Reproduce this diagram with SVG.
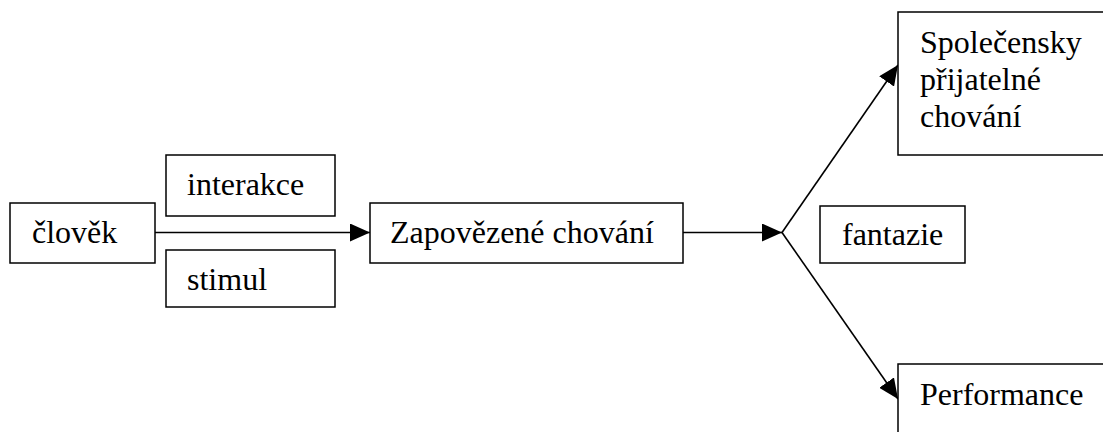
<svg xmlns="http://www.w3.org/2000/svg" width="1103" height="432" viewBox="0 0 1103 432">
<style>
.box{fill:#fff;stroke:#000;stroke-width:1.5}
.t{font-family:"Liberation Serif","Times New Roman",serif;font-size:32px;fill:#000}
.c{stroke:#000;stroke-width:1.6;fill:none}
</style>
<defs>
<marker id="ah" markerUnits="userSpaceOnUse" markerWidth="20" markerHeight="18" refX="20" refY="9" orient="auto">
<path d="M0,0 L20,9 L0,18 Z" fill="#000"/>
</marker>
</defs>
<rect width="1103" height="432" fill="#fff"/>
<g id="connectors">
<line class="c" x1="155" y1="232.5" x2="370" y2="232.5" marker-end="url(#ah)"/>
<line class="c" x1="683" y1="232.5" x2="782" y2="232.5" marker-end="url(#ah)"/>
<line class="c" x1="782" y1="232.5" x2="898" y2="65" marker-end="url(#ah)"/>
<line class="c" x1="782" y1="232.5" x2="898" y2="399" marker-end="url(#ah)"/>
</g>
<g id="clovek">
<rect class="box" x="10" y="203" width="145" height="60"/>
<text class="t" x="32" y="243">člověk</text>
</g>
<g id="interakce">
<rect class="box" x="166" y="155" width="169" height="61"/>
<text class="t" x="187" y="195">interakce</text>
</g>
<g id="stimul">
<rect class="box" x="166" y="250" width="169" height="57"/>
<text class="t" x="187" y="290">stimul</text>
</g>
<g id="zapovezene">
<rect class="box" x="370" y="203" width="313" height="60"/>
<text class="t" x="390" y="243">Zapovězené chování</text>
</g>
<g id="fantazie">
<rect class="box" x="820" y="206" width="145" height="57"/>
<text class="t" x="842" y="245">fantazie</text>
</g>
<g id="spolecensky">
<rect class="box" x="898" y="12" width="210" height="143"/>
<text class="t" x="920" y="53">Společensky</text>
<text class="t" x="920" y="90">přijatelné</text>
<text class="t" x="920" y="127">chování</text>
</g>
<g id="performance">
<rect class="box" x="898" y="364" width="210" height="80"/>
<text class="t" x="920" y="405">Performance</text>
</g>
</svg>
